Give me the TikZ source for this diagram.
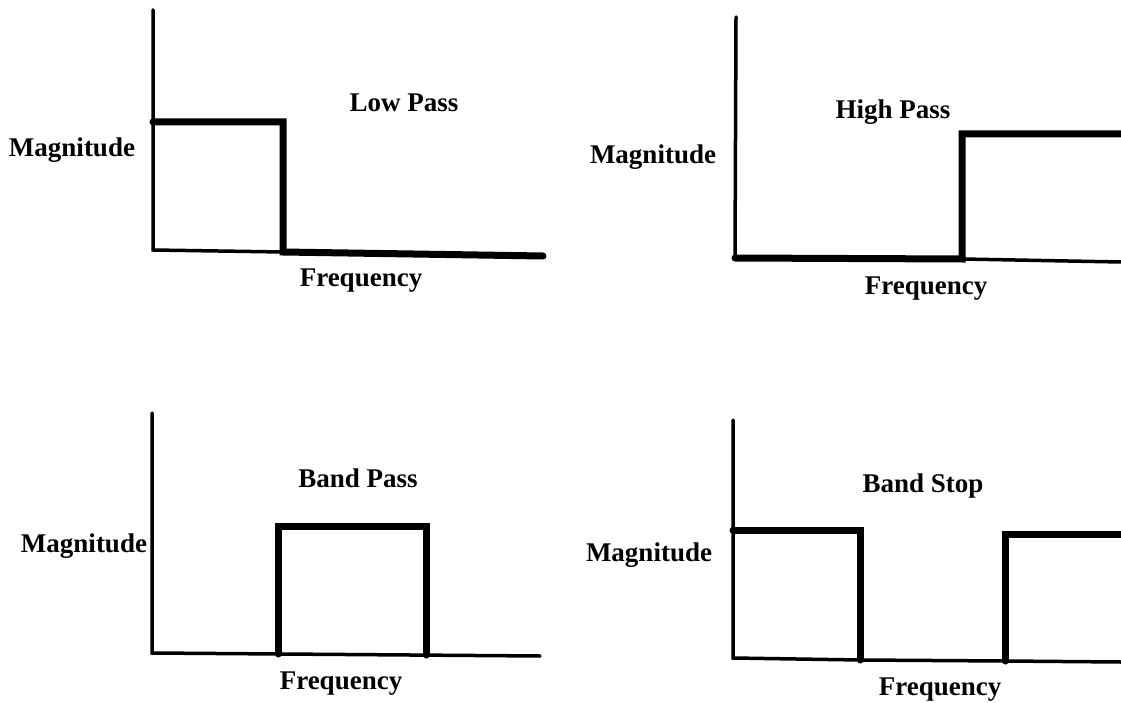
\documentclass[tikz,border=0pt]{standalone}
\usepackage{fontspec}
\setmainfont{Liberation Serif}
\begin{document}
\begin{tikzpicture}[x=1pt,y=-1pt,
  axis/.style={line width=3.5pt,line cap=round,line join=miter},
  resp/.style={line width=7pt,line cap=round,line join=miter},
  lbl/.style={font=\fontsize{27}{31}\selectfont\bfseries,inner sep=0pt,anchor=center}]
\useasboundingbox[fill=white] (0,0) rectangle (1121,703);
% ---------- Low pass ----------
\coordinate (lpT) at (153,10);
\coordinate (lpO) at (153,250);
\coordinate (lpA) at (153,122);
\coordinate (lpB) at (283,122);
\coordinate (lpC) at (283,252);
\coordinate (lpD) at (543,256);
\draw[axis] (lpT) -- (lpO) -- (lpC);
\draw[resp] (lpA) -- (lpB) -- (lpC) -- (lpD);
\node[lbl] (lpt) at (404,103) {Low Pass};
\node[lbl] (lpm) at (72,150) {Magnitude};
\node[lbl] (lpf) at (361,281) {Frequency};
% ---------- High pass ----------
\coordinate (hpT) at (736,17);
\coordinate (hpO) at (735,258);
\coordinate (hpA) at (962,259);
\coordinate (hpB) at (962,134);
\coordinate (hpC) at (1121,134);
\coordinate (hpD) at (1121,262);
\draw[axis] (hpT) -- (hpO);
\draw[axis] (hpA) -- (hpD);
\draw[resp] (hpO) -- (hpA) -- (hpB) -- (hpC);
\node[lbl] (hpt) at (893,112) {High Pass};
\node[lbl] (hpm) at (653,157) {Magnitude};
\node[lbl] (hpf) at (926,289) {Frequency};
% ---------- Band pass ----------
\coordinate (bpT) at (152,413);
\coordinate (bpO) at (152,653);
\coordinate (bpE) at (540,656);
\coordinate (bpA) at (278,654);
\coordinate (bpB) at (278,526);
\coordinate (bpC) at (426,526);
\coordinate (bpD) at (426,655);
\draw[axis] (bpT) -- (bpO) -- (bpE);
\draw[resp] (bpA) -- (bpB) -- (bpC) -- (bpD);
\node[lbl] (bpt) at (358,478) {Band Pass};
\node[lbl] (bpm) at (84,546) {Magnitude};
\node[lbl] (bpf) at (341,684) {Frequency};
% ---------- Band stop ----------
\coordinate (bsT) at (733,420);
\coordinate (bsO) at (733,658);
\coordinate (bsA) at (733,530);
\coordinate (bsB) at (860,530);
\coordinate (bsC) at (860,660);
\coordinate (bsD) at (1005,661);
\coordinate (bsE) at (1005,534);
\coordinate (bsF) at (1121,534);
\coordinate (bsG) at (1121,662);
\draw[axis] (bsT) -- (bsO) -- (bsC);
\draw[axis] (bsC) -- (bsD) -- (bsG);
\draw[resp] (bsA) -- (bsB) -- (bsC);
\draw[resp] (bsD) -- (bsE) -- (bsF);
\node[lbl] (bst) at (923,486) {Band Stop};
\node[lbl] (bsm) at (649,555) {Magnitude};
\node[lbl] (bsf) at (940,690) {Frequency};
\end{tikzpicture}
\end{document}
